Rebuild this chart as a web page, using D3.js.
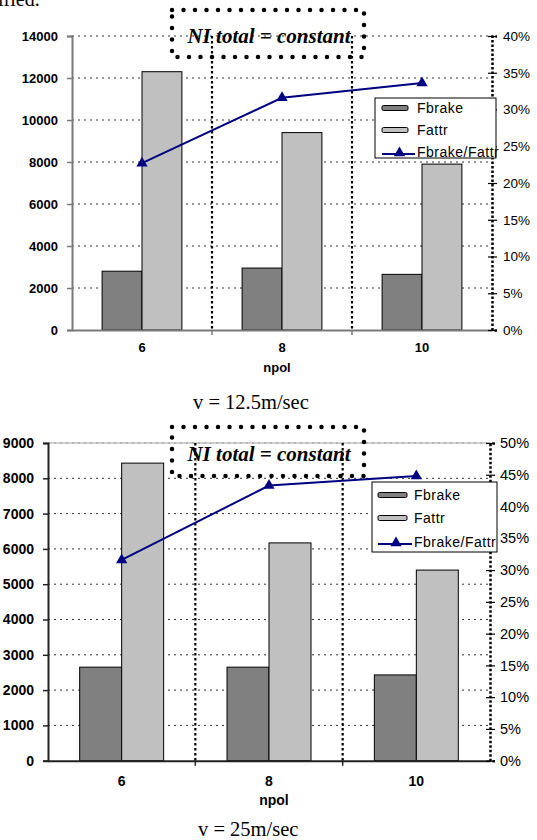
<!DOCTYPE html>
<html><head><meta charset="utf-8">
<script src="https://cdn.jsdelivr.net/npm/d3@7"></script>
<style>
body{margin:0;background:#fff;}
svg{display:block;}
.sans{font-family:"Liberation Sans",Arial,sans-serif;}
.serif{font-family:"Liberation Serif","Times New Roman",serif;}
</style></head>
<body>
<svg id="c" width="537" height="840"></svg>
<script>
const categories = ["6", "8", "10"];
const seriesNames = ["Fbrake", "Fattr", "Fbrake/Fattr"];
// chart 1: v = 12.5 m/sec
const fbrake1 = [2800, 2950, 2650];
const fattr1 = [12300, 9400, 7900];
const ratio1 = [0.227, 0.316, 0.336];
const leftTicks1 = [0, 2000, 4000, 6000, 8000, 10000, 12000, 14000];
const rightTicks1 = [0, 0.05, 0.10, 0.15, 0.20, 0.25, 0.30, 0.35, 0.40];
// chart 2: v = 25 m/sec
const fbrake2 = [2650, 2650, 2430];
const fattr2 = [8430, 6170, 5400];
const ratio2 = [0.316, 0.433, 0.448];
const leftTicks2 = [0, 1000, 2000, 3000, 4000, 5000, 6000, 7000, 8000, 9000];
const rightTicks2 = [0, 0.05, 0.10, 0.15, 0.20, 0.25, 0.30, 0.35, 0.40, 0.45, 0.50];
const titleText = "NI total = constant";
const xTitle = "npol";
const captions = ["v = 12.5m/sec", "v = 25m/sec"];

const svg = d3.select("#c");
const colors = {Fbrake: "#808080", Fattr: "#c0c0c0", line: "#000080"};

svg.append("text").attr("class", "serif").attr("x", -2).attr("y", 6)
  .attr("font-size", 20).text("ified.");

function drawChart(o) {
  const g = svg.append("g");
  const x = d3.scaleBand().domain(categories).range([o.x0, o.x1])
    .paddingInner(0.43).paddingOuter(0.215);
  const xs = d3.scaleBand().domain(["Fbrake", "Fattr"]).range([0, x.bandwidth()]);
  const y = d3.scaleLinear().domain([0, d3.max(o.leftTicks)]).range([o.yb, o.yt]);
  const y2 = d3.scaleLinear().domain([0, d3.max(o.rightTicks)]).range([o.yb, o.yt]);
  const step = x.step();

  // gridlines
  g.append("g").selectAll("line").data(o.leftTicks.filter(d => d > 0)).join("line")
    .attr("x1", o.x0).attr("x2", o.x1).attr("y1", d => y(d)).attr("y2", d => y(d))
    .attr("stroke", "#333").attr("stroke-width", 1).attr("stroke-dasharray", "2,4");
  if (o.topBorder) {
    g.append("line").attr("x1", o.x0).attr("x2", o.x1).attr("y1", o.yt).attr("y2", o.yt)
      .attr("stroke", "#c0c0c0").attr("stroke-width", 1.5);
  }
  // category dividers
  const bounds = categories.slice(1).map((c, i) => o.x0 + step * (i + 1));
  g.append("g").selectAll("line").data(bounds).join("line")
    .attr("x1", d => d).attr("x2", d => d).attr("y1", o.yt).attr("y2", o.yb)
    .attr("stroke", "#000").attr("stroke-width", 2.2).attr("stroke-dasharray", "2.5,2.5");

  // bars
  const rows = categories.map((c, i) => ({c, Fbrake: o.fbrake[i], Fattr: o.fattr[i]}));
  g.append("g").selectAll("g").data(rows).join("g")
    .attr("transform", d => `translate(${x(d.c)},0)`)
    .selectAll("rect").data(d => ["Fbrake", "Fattr"].map(k => ({k, v: d[k]}))).join("rect")
    .attr("x", d => xs(d.k)).attr("width", xs.bandwidth())
    .attr("y", d => y(d.v)).attr("height", d => y(0) - y(d.v))
    .attr("fill", d => colors[d.k]).attr("stroke", "#000").attr("stroke-width", 1);

  // left axis
  const la = g.append("g").attr("transform", `translate(${o.x0},0)`)
    .call(d3.axisLeft(y).tickValues(o.leftTicks).tickSize(5).tickPadding(o.lpad).tickFormat(d3.format("d")));
  la.select(".domain").attr("stroke", o.axisColor).attr("stroke-width", 2);
  la.selectAll(".tick line").attr("stroke", o.axisColor).attr("stroke-width", 1.5);
  la.selectAll("text").attr("class", "sans").attr("font-weight", "bold")
    .attr("font-size", o.lfs).attr("fill", "#000");

  // bottom axis
  const ba = g.append("g").attr("transform", `translate(0,${o.yb})`)
    .call(d3.axisBottom(x).tickSize(0).tickPadding(o.xpad));
  ba.select(".domain").attr("stroke", o.axisColor).attr("stroke-width", 2);
  ba.selectAll("text").attr("class", "sans").attr("font-weight", "bold")
    .attr("font-size", o.lfs).attr("fill", "#000");
  ba.append("g").selectAll("line").data(bounds).join("line")
    .attr("x1", d => d).attr("x2", d => d).attr("y1", 0).attr("y2", 5)
    .attr("stroke", o.axisColor).attr("stroke-width", 1.5);
  g.append("text").attr("class", "sans").attr("font-weight", "bold").attr("font-size", o.lfs)
    .attr("x", o.npolX).attr("y", o.npolY).attr("text-anchor", "middle").text(xTitle);

  // right axis
  const ra = g.append("g").attr("transform", `translate(${o.x1},0)`)
    .call(d3.axisRight(y2).tickValues(o.rightTicks).tickSize(5).tickPadding(o.rpad).tickFormat(d3.format(".0%")));
  ra.select(".domain").attr("stroke", "#000").attr("stroke-width", 2.5).attr("stroke-dasharray", "2.5,2");
  ra.selectAll(".tick line").attr("x1", -4).attr("stroke", "#000").attr("stroke-width", 1.2);
  ra.selectAll("text").attr("class", "sans").attr("font-size", o.rfs).attr("fill", "#000");

  // ratio line
  const pts = categories.map((c, i) => [x(c) + x.bandwidth() / 2, y2(o.ratio[i])]);
  g.append("path").attr("d", d3.line()(pts)).attr("fill", "none")
    .attr("stroke", colors.line).attr("stroke-width", 2);
  const tri = d3.symbol().type(d3.symbolTriangle).size(55);
  g.append("g").selectAll("path").data(pts).join("path")
    .attr("transform", d => `translate(${d[0]},${d[1]})`).attr("d", tri).attr("fill", colors.line);

  // title box
  const tb = o.tbox;
  g.append("rect").attr("x", tb[0]).attr("y", tb[1]).attr("width", tb[2] - tb[0]).attr("height", tb[3] - tb[1])
    .attr("fill", "none").attr("stroke", "#000").attr("stroke-width", 4.5)
    .attr("stroke-linecap", "round").attr("stroke-dasharray", "0,11.5");
  g.append("text").attr("class", "serif").attr("font-weight", "bold").attr("font-style", "italic")
    .attr("font-size", 21).attr("x", (tb[0] + tb[2]) / 2 + 1).attr("y", o.titleY)
    .attr("text-anchor", "middle").text(titleText);

  // legend
  const L = o.legend;
  const lg = g.append("g");
  lg.append("rect").attr("x", L.x0).attr("y", L.y0).attr("width", L.x1 - L.x0).attr("height", L.y1 - L.y0)
    .attr("fill", "#fff").attr("stroke", "#000").attr("stroke-width", 1);
  seriesNames.forEach((s, i) => {
    const cy = L.ys[i];
    if (i < 2) {
      lg.append("rect").attr("x", L.sx0).attr("y", cy - 2.5).attr("width", L.sx1 - L.sx0).attr("height", 5)
        .attr("rx", 1.5).attr("fill", colors[s]).attr("stroke", "#000").attr("stroke-width", 1);
    } else {
      lg.append("line").attr("x1", L.sx0).attr("x2", L.tx - 2).attr("y1", cy + 2).attr("y2", cy + 2)
        .attr("stroke", colors.line).attr("stroke-width", 2);
      lg.append("path").attr("transform", `translate(${(L.sx0 + L.tx) / 2},${cy + 1})`)
        .attr("d", tri).attr("fill", colors.line);
    }
    lg.append("text").attr("class", "sans").attr("font-size", 14).attr("letter-spacing", 0.5)
      .attr("x", L.tx).attr("y", cy).attr("dy", "0.35em").text(s);
  });

  svg.append("text").attr("class", "serif").attr("font-size", 20.5)
    .attr("x", o.capX).attr("y", o.capY).text(o.caption);
}

drawChart({
  x0: 72, x1: 492, yt: 36, yb: 330, fbrake: fbrake1, fattr: fattr1, ratio: ratio1,
  leftTicks: leftTicks1, rightTicks: rightTicks1, axisColor: "#7a7a7a", topBorder: false,
  lpad: 9, lfs: 13, rpad: 6, rfs: 13.5, xpad: 13, npolX: 277, npolY: 372,
  tbox: [172, 10, 364, 57], titleY: 43,
  legend: {x0: 375, x1: 496, y0: 98, y1: 158, ys: [108, 130, 152], sx0: 382, sx1: 408, tx: 417},
  caption: captions[0], capX: 193, capY: 409
});
drawChart({
  x0: 48, x1: 490, yt: 443, yb: 760.7, fbrake: fbrake2, fattr: fattr2, ratio: ratio2,
  leftTicks: leftTicks2, rightTicks: rightTicks2, axisColor: "#222", topBorder: true,
  lpad: 9, lfs: 14, rpad: 5, rfs: 14.5, xpad: 15, npolX: 274, npolY: 805,
  tbox: [172, 427, 364, 476], titleY: 461,
  legend: {x0: 372, x1: 497, y0: 482, y1: 552, ys: [495, 518, 542], sx0: 378, sx1: 407, tx: 414},
  caption: captions[1], capX: 198, capY: 836
});
</script>
</body></html>
